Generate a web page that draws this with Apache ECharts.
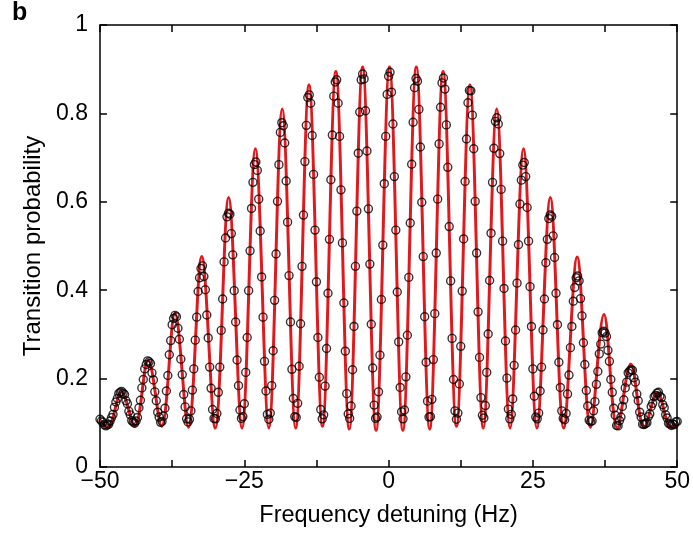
<!DOCTYPE html>
<html>
<head>
<meta charset="utf-8">
<script src="https://cdn.jsdelivr.net/npm/echarts@6/dist/echarts.min.js"></script>
<style>
  html, body { margin: 0; padding: 0; background: #fff; }
  #chart { width: 693px; height: 534px; }
</style>
</head>
<body>
<div id="chart"></div>
<script>
// measured points: one every 0.25 Hz from -50 Hz to 50 Hz
var detuningStart = -50;
var detuningStep = 0.25;
var measuredProbability = [
  0.108, 0.104, 0.101, 0.096, 0.093, 0.095,
  0.097, 0.104, 0.112, 0.119, 0.135, 0.147, 0.155, 0.166, 0.169, 0.171, 0.167, 0.164, 0.150, 0.143, 0.126, 0.118, 0.105, 0.102, 0.099,
  0.104, 0.112, 0.134, 0.151, 0.179, 0.198, 0.222, 0.232, 0.240, 0.238, 0.234, 0.213, 0.197, 0.170, 0.150, 0.124, 0.113, 0.101,
  0.103, 0.115, 0.133, 0.172, 0.207, 0.254, 0.286, 0.322, 0.336, 0.343, 0.340, 0.314, 0.289, 0.244, 0.209, 0.164, 0.136, 0.109, 0.102,
  0.108, 0.127, 0.174, 0.222, 0.287, 0.339, 0.397, 0.428, 0.449, 0.455, 0.431, 0.401, 0.344, 0.292, 0.226, 0.178, 0.130, 0.110,
  0.109, 0.121, 0.169, 0.226, 0.309, 0.380, 0.464, 0.518, 0.566, 0.574, 0.572, 0.528, 0.480, 0.399, 0.328, 0.242, 0.184, 0.129, 0.110,
  0.114, 0.143, 0.214, 0.293, 0.399, 0.489, 0.585, 0.644, 0.684, 0.690, 0.671, 0.606, 0.534, 0.430, 0.339, 0.239, 0.172, 0.119, 0.108,
  0.122, 0.184, 0.263, 0.377, 0.482, 0.601, 0.684, 0.757, 0.779, 0.772, 0.733, 0.647, 0.554, 0.433, 0.328, 0.221, 0.155, 0.114,
  0.112, 0.144, 0.228, 0.324, 0.454, 0.570, 0.691, 0.773, 0.836, 0.842, 0.823, 0.750, 0.662, 0.536, 0.419, 0.293, 0.203, 0.130, 0.109,
  0.118, 0.183, 0.268, 0.393, 0.515, 0.650, 0.751, 0.839, 0.871, 0.876, 0.823, 0.748, 0.627, 0.507, 0.371, 0.262, 0.166, 0.120,
  0.110, 0.138, 0.220, 0.318, 0.454, 0.579, 0.710, 0.803, 0.876, 0.889, 0.878, 0.806, 0.715, 0.584, 0.459, 0.323, 0.224, 0.140, 0.110,
  0.113, 0.170, 0.253, 0.379, 0.502, 0.641, 0.748, 0.843, 0.884, 0.893, 0.848, 0.776, 0.657, 0.536, 0.396, 0.283, 0.180, 0.125,
  0.109, 0.129, 0.204, 0.298, 0.429, 0.552, 0.685, 0.780, 0.858, 0.879, 0.873, 0.809, 0.724, 0.599, 0.476, 0.340, 0.237, 0.149, 0.113,
  0.114, 0.153, 0.243, 0.347, 0.484, 0.606, 0.731, 0.814, 0.869, 0.880, 0.855, 0.774, 0.678, 0.544, 0.421, 0.291, 0.198, 0.127, 0.108,
  0.122, 0.188, 0.273, 0.398, 0.516, 0.646, 0.742, 0.824, 0.852, 0.851, 0.796, 0.720, 0.601, 0.484, 0.351, 0.248, 0.157, 0.117,
  0.111, 0.139, 0.214, 0.301, 0.422, 0.529, 0.644, 0.721, 0.782, 0.790, 0.776, 0.709, 0.628, 0.511, 0.404, 0.285, 0.201, 0.131, 0.109,
  0.119, 0.154, 0.230, 0.310, 0.416, 0.503, 0.595, 0.649, 0.683, 0.689, 0.657, 0.587, 0.511, 0.408, 0.318, 0.222, 0.160, 0.113,
  0.109, 0.122, 0.172, 0.226, 0.310, 0.380, 0.462, 0.515, 0.562, 0.570, 0.567, 0.523, 0.474, 0.393, 0.322, 0.237, 0.180, 0.127, 0.110,
  0.107, 0.121, 0.165, 0.208, 0.270, 0.318, 0.375, 0.406, 0.428, 0.432, 0.421, 0.381, 0.342, 0.281, 0.232, 0.173, 0.138, 0.106,
  0.103, 0.104, 0.127, 0.148, 0.187, 0.216, 0.256, 0.278, 0.304, 0.307, 0.303, 0.295, 0.264, 0.239, 0.198, 0.169, 0.133, 0.117, 0.094,
  0.093, 0.105, 0.113, 0.137, 0.152, 0.179, 0.192, 0.213, 0.217, 0.220, 0.219, 0.202, 0.192, 0.165, 0.150, 0.124, 0.113, 0.097, 0.096,
  0.098, 0.100, 0.114, 0.120, 0.137, 0.144, 0.159, 0.162, 0.167, 0.169, 0.160, 0.157, 0.141, 0.134, 0.118, 0.111, 0.099, 0.097,
  0.094, 0.097, 0.096, 0.102, 0.103
];

// fit curve: maxima and minima of the fringes
var fitDetuning = [-50, -48.62, -46.3, -43.98, -41.66, -39.33, -37.01, -34.69, -32.37, -30.04,
  -27.72, -25.4, -23.08, -20.75, -18.43, -16.11, -13.79, -11.46, -9.14, -6.82, -4.5, -2.17,
  0.15, 2.47, 4.8, 7.12, 9.44, 11.76, 14.09, 16.41, 18.73, 21.05, 23.38, 25.7, 28.02, 30.34,
  32.67, 34.99, 37.31, 39.63, 41.96, 44.28, 46.6, 48.92, 50];
var fitProbability = [0.106, 0.09, 0.17, 0.092, 0.242, 0.092, 0.348, 0.09, 0.476, 0.088,
  0.61, 0.088, 0.72, 0.088, 0.81, 0.088, 0.864, 0.092, 0.895, 0.086, 0.905, 0.083,
  0.905, 0.083, 0.905, 0.086, 0.895, 0.092, 0.864, 0.088, 0.81, 0.088, 0.72, 0.088, 0.61, 0.088,
  0.475, 0.09, 0.345, 0.088, 0.233, 0.09, 0.168, 0.09, 0.097];

var xLabelValues = [-50, -25, 0, 25, 50];

var measured = measuredProbability.map(function (p, i) {
  return [detuningStart + i * detuningStep, p];
});
var fit = fitDetuning.map(function (x, i) { return [x, fitProbability[i]]; });

var font = '"Liberation Sans", Arial, Helvetica, sans-serif';
var frame = { color: '#000', width: 1.5 };

function xLabel(v) {
  if (xLabelValues.indexOf(v) < 0) return '';
  return v < 0 ? '\u2212' + (-v) : String(v);
}

var chart = echarts.init(document.getElementById('chart'));
chart.setOption({
  animation: false,
  backgroundColor: '#fff',
  graphic: [{
    type: 'text', left: 12, top: 1,
    style: { text: 'b', font: 'bold 25px ' + font, fill: '#000' }
  }],
  grid: { left: 100, right: 15, top: 25, bottom: 67 },
  xAxis: [{
    type: 'value', min: -50, max: 50, interval: 12.5, position: 'bottom',
    axisLine: { onZero: false, lineStyle: frame },
    axisTick: { inside: true, length: 7, lineStyle: frame },
    axisLabel: { formatter: xLabel, color: '#000', fontSize: 23, fontFamily: font, margin: 3,
      showMinLabel: true, showMaxLabel: true },
    splitLine: { show: false },
    name: 'Frequency detuning (Hz)', nameLocation: 'middle', nameGap: 37,
    nameTextStyle: { color: '#000', fontSize: 23.5, fontFamily: font }
  }, {
    type: 'value', min: -50, max: 50, interval: 12.5, position: 'top',
    axisLine: { onZero: false, lineStyle: frame },
    axisTick: { inside: true, length: 7, lineStyle: frame },
    axisLabel: { show: false }, splitLine: { show: false }
  }],
  yAxis: [{
    type: 'value', min: 0, max: 1, interval: 0.2, position: 'left',
    axisLine: { show: true, onZero: false, lineStyle: frame },
    axisTick: { show: true, inside: true, length: 7, lineStyle: frame },
    axisLabel: { color: '#000', fontSize: 23, fontFamily: font, margin: 12 },
    splitLine: { show: false },
    name: 'Transition probability', nameLocation: 'middle', nameGap: 55,
    nameTextStyle: { color: '#000', fontSize: 24, fontFamily: font }
  }, {
    type: 'value', min: 0, max: 1, interval: 0.2, position: 'right',
    axisLine: { show: true, onZero: false, lineStyle: frame },
    axisTick: { show: true, inside: true, length: 7, lineStyle: frame },
    axisLabel: { show: false }, splitLine: { show: false }
  }],
  series: [{
    type: 'line', data: fit, smooth: 0.36, showSymbol: false, z: 2,
    lineStyle: { color: '#e2191c', width: 3 }
  }, {
    type: 'scatter', data: measured, symbol: 'circle', symbolSize: 8, z: 3,
    itemStyle: { color: 'rgba(0,0,0,0)', borderColor: '#000', borderWidth: 1.4 }
  }]
});
</script>
</body>
</html>
